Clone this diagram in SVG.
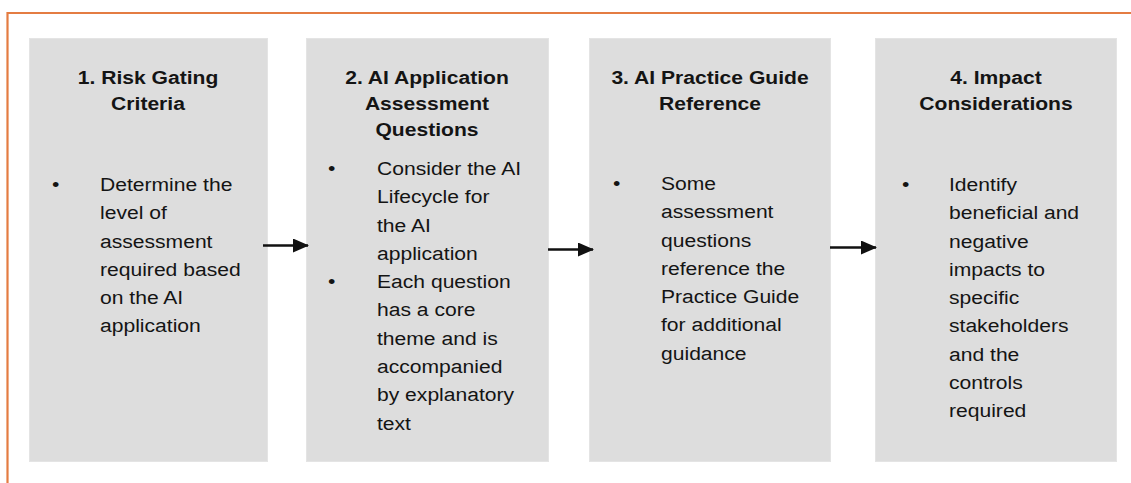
<svg xmlns="http://www.w3.org/2000/svg" width="1131" height="483" viewBox="0 0 1131 483">
<style>
.box{fill:#dddddd;stroke:#e4e4e4;stroke-width:1}
.t{font-family:"Liberation Sans",Arial,sans-serif;font-size:19px;fill:#141414}
.h{font-weight:bold;text-anchor:middle}
.frame{fill:none;stroke:#e47c42;stroke-width:2.2}
.conn{stroke:#111;stroke-width:2.5;fill:none}
</style>
<defs>
<marker id="ah" markerWidth="16" markerHeight="14" refX="15" refY="7" orient="auto" markerUnits="userSpaceOnUse">
<path d="M0,0 L16,7 L0,14 Z" fill="#111"/>
</marker>
</defs>
<path class="frame" d="M7.5,483 L7.5,13 L1131,13"/>
<g id="node1">
<rect class="box" x="29.5" y="38.5" width="238" height="423"/>
<g transform="translate(148,0) scale(1.11,1)">
<text class="t h" x="0" y="84">1. Risk Gating</text>
<text class="t h" x="0" y="110">Criteria</text>
</g>
<g transform="translate(52,0) scale(1.11,1)"><text class="t" x="0" y="191">•</text></g>
<g transform="translate(100,0) scale(1.11,1)">
<text class="t" x="0" y="191">Determine the</text>
<text class="t" x="0" y="219.3">level of</text>
<text class="t" x="0" y="247.6">assessment</text>
<text class="t" x="0" y="275.9">required based</text>
<text class="t" x="0" y="304.2">on the AI</text>
<text class="t" x="0" y="332.5">application</text>
</g>
</g>
<g id="node2">
<rect class="box" x="306.5" y="38.5" width="242" height="423"/>
<g transform="translate(427,0) scale(1.11,1)">
<text class="t h" x="0" y="84">2. AI Application</text>
<text class="t h" x="0" y="110">Assessment</text>
<text class="t h" x="0" y="136">Questions</text>
</g>
<g transform="translate(328,0) scale(1.11,1)">
<text class="t" x="0" y="175">•</text>
<text class="t" x="0" y="288.2">•</text>
</g>
<g transform="translate(377,0) scale(1.11,1)">
<text class="t" x="0" y="175">Consider the AI</text>
<text class="t" x="0" y="203.3">Lifecycle for</text>
<text class="t" x="0" y="231.6">the AI</text>
<text class="t" x="0" y="259.9">application</text>
<text class="t" x="0" y="288.2">Each question</text>
<text class="t" x="0" y="316.5">has a core</text>
<text class="t" x="0" y="344.8">theme and is</text>
<text class="t" x="0" y="373.1">accompanied</text>
<text class="t" x="0" y="401.4">by explanatory</text>
<text class="t" x="0" y="429.7">text</text>
</g>
</g>
<g id="node3">
<rect class="box" x="589.5" y="38.5" width="241" height="423"/>
<g transform="translate(710,0) scale(1.11,1)">
<text class="t h" x="0" y="84">3. AI Practice Guide</text>
<text class="t h" x="0" y="110">Reference</text>
</g>
<g transform="translate(613,0) scale(1.11,1)"><text class="t" x="0" y="190">•</text></g>
<g transform="translate(661,0) scale(1.11,1)">
<text class="t" x="0" y="190">Some</text>
<text class="t" x="0" y="218.3">assessment</text>
<text class="t" x="0" y="246.6">questions</text>
<text class="t" x="0" y="274.9">reference the</text>
<text class="t" x="0" y="303.2">Practice Guide</text>
<text class="t" x="0" y="331.5">for additional</text>
<text class="t" x="0" y="359.8">guidance</text>
</g>
</g>
<g id="node4">
<rect class="box" x="875.5" y="38.5" width="241" height="423"/>
<g transform="translate(996,0) scale(1.11,1)">
<text class="t h" x="0" y="84">4. Impact</text>
<text class="t h" x="0" y="110">Considerations</text>
</g>
<g transform="translate(902,0) scale(1.11,1)"><text class="t" x="0" y="191">•</text></g>
<g transform="translate(949,0) scale(1.11,1)">
<text class="t" x="0" y="191">Identify</text>
<text class="t" x="0" y="219.3">beneficial and</text>
<text class="t" x="0" y="247.6">negative</text>
<text class="t" x="0" y="275.9">impacts to</text>
<text class="t" x="0" y="304.2">specific</text>
<text class="t" x="0" y="332.5">stakeholders</text>
<text class="t" x="0" y="360.8">and the</text>
<text class="t" x="0" y="389.1">controls</text>
<text class="t" x="0" y="417.4">required</text>
</g>
</g>
<g id="connectors">
<line class="conn" x1="263" y1="245.5" x2="308" y2="245.5" marker-end="url(#ah)"/>
<line class="conn" x1="548" y1="249.5" x2="593" y2="249.5" marker-end="url(#ah)"/>
<line class="conn" x1="830" y1="247.5" x2="876" y2="247.5" marker-end="url(#ah)"/>
</g>
</svg>
